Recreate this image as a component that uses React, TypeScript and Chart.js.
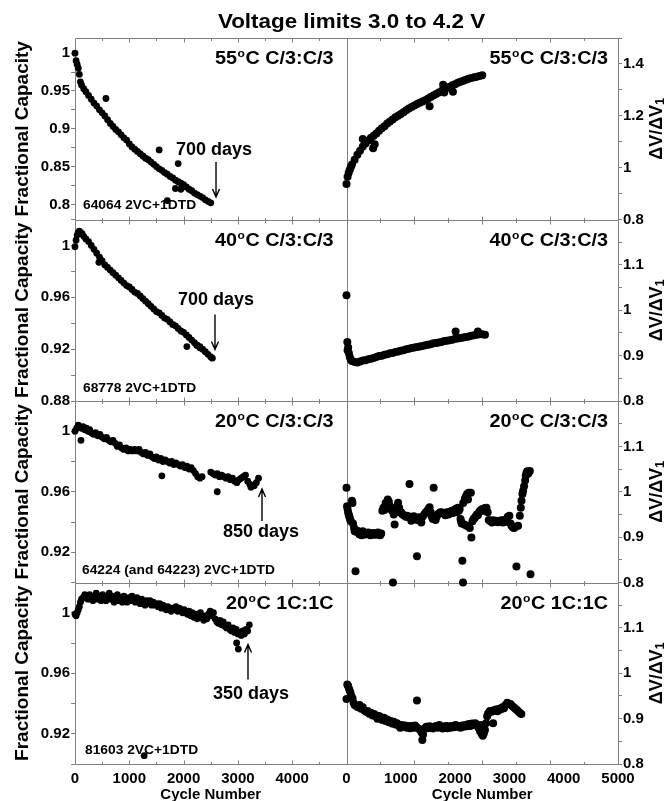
import React, { useEffect, useRef } from "react";
import { Chart, registerables } from "chart.js";

Chart.register(...registerables);

const FONT = '"Liberation Sans", Arial, Helvetica, sans-serif';
const FRAME = "#808080";

// ---------------- text ----------------
const chartTitle = "Voltage limits 3.0 to 4.2 V";
const xTitle = "Cycle Number";
const leftTitle = "Fractional Capacity";
const rightTitleMain = "\u0394V/\u0394V";
const rightTitleSub = "1";
const panelTemps = ["55", "55", "40", "40", "20", "20", "20", "20"];
const panelRates = ["C/3:C/3", "C/3:C/3", "C/3:C/3", "C/3:C/3", "C/3:C/3", "C/3:C/3", "1C:1C", "1C:1C"];
const dayLabels = ["700 days", "700 days", "850 days", "350 days"];
const dayLabelX = [1860, 1897, 2726, 2541];
const dayLabelY = [0.8653, 0.9544, 0.9301, 0.9433];
const arrowX = [2597, 2578, 3444, 3186];
const arrowFrom = [0.856, 0.9467, 0.9407, 0.9559];
const arrowTo = [0.8098, 0.9197, 0.9618, 0.979];
const cellIds = ["64064 2VC+1DTD", "68778 2VC+1DTD", "64224 (and 64223) 2VC+1DTD", "81603 2VC+1DTD"];
const cellIdX = [147, 147, 129, 184];
const cellIdY = [0.7939, 0.8873, 0.9056, 0.9069];

// ---------------- axes ----------------
const xMin = 0;
const xMax = 5000;
const xLabelStep = 1000;
const leftXTicks = [500, 1000, 1500, 2000, 2500, 3000, 3500, 4000, 4500];
const rightXTicks = [625, 1250, 1875, 2500, 3125, 3750, 4375];
const fracMin = [0.78, 0.88, 0.9, 0.9];
const fracMax = [1.02, 1.02, 1.02, 1.02];
const fracStep = [0.025, 0.02, 0.02, 0.02];
const fracLabelStep = [0.05, 0.04, 0.04, 0.04];
const dvMin = [0.8, 0.8, 0.8, 0.8];
const dvMax = [1.5, 1.2, 1.2, 1.2];
const dvStep = [0.1, 0.05, 0.05, 0.05];
const dvLabelStep = [0.2, 0.1, 0.1, 0.1];

// ---------------- data: 55C C/3:C/3 ----------------
const cyc55Frac = [0, 20, 40, 60, 80, 100, 120, 160, 200, 250, 300, 350, 400, 450, 500, 550, 600, 650, 700, 750, 800, 850, 900, 950, 1000, 1050, 1100, 1150, 1200, 1250, 1300, 1350, 1400, 1450, 1500, 1550, 1600, 1650, 1700, 1750, 1800, 1850, 1900, 1950, 2000, 2050, 2100, 2150, 2200, 2250, 2300, 2350, 2400, 2450, 2500];
const frac55 = [1.0, 0.99, 0.985, 0.98, 0.972, 0.962, 0.958, 0.953, 0.949, 0.944, 0.939, 0.934, 0.93, 0.925, 0.921, 0.917, 0.912, 0.907, 0.903, 0.899, 0.896, 0.892, 0.888, 0.885, 0.88, 0.876, 0.873, 0.87, 0.867, 0.864, 0.861, 0.859, 0.856, 0.853, 0.85, 0.847, 0.845, 0.842, 0.84, 0.837, 0.835, 0.832, 0.83, 0.828, 0.826, 0.823, 0.82, 0.818, 0.815, 0.813, 0.811, 0.809, 0.806, 0.804, 0.802];
const cyc55FracOut = [570, 1550, 1900, 1850, 1950, 1700];
const frac55Out = [0.94, 0.872, 0.854, 0.821, 0.82, 0.805];
const cyc55Dv = [0, 20, 40, 60, 80, 100, 150, 200, 250, 300, 350, 400, 450, 500, 550, 600, 650, 700, 750, 800, 850, 900, 950, 1000, 1050, 1100, 1150, 1200, 1250, 1300, 1350, 1400, 1450, 1500, 1550, 1600, 1650, 1700, 1750, 1800, 1850, 1900, 1950, 2000, 2050, 2100, 2150, 2200, 2250, 2300, 2350, 2400, 2450, 2500];
const dv55 = [0.937, 0.965, 0.98, 0.992, 1.002, 1.012, 1.03, 1.05, 1.065, 1.082, 1.093, 1.105, 1.115, 1.123, 1.132, 1.142, 1.152, 1.16, 1.17, 1.178, 1.186, 1.194, 1.2, 1.207, 1.214, 1.221, 1.228, 1.234, 1.24, 1.245, 1.25, 1.255, 1.26, 1.266, 1.272, 1.278, 1.284, 1.29, 1.296, 1.302, 1.307, 1.312, 1.318, 1.322, 1.327, 1.331, 1.335, 1.339, 1.343, 1.346, 1.349, 1.351, 1.353, 1.356];
const cyc55DvOut = [300, 490, 520, 1530, 1780, 1800, 1960];
const dv55Out = [1.11, 1.075, 1.09, 1.237, 1.32, 1.29, 1.293];

// ---------------- data: 40C C/3:C/3 ----------------
const cyc40Frac = [0, 20, 40, 60, 80, 100, 130, 160, 200, 250, 300, 350, 400, 450, 500, 550, 600, 650, 700, 750, 800, 850, 900, 950, 1000, 1050, 1100, 1150, 1200, 1250, 1300, 1350, 1400, 1450, 1500, 1550, 1600, 1650, 1700, 1750, 1800, 1850, 1900, 1950, 2000, 2050, 2100, 2150, 2200, 2250, 2300, 2350, 2400, 2450, 2500, 2530];
const frac40 = [0.999, 1.004, 1.008, 1.01, 1.011, 1.01, 1.009, 1.007, 1.005, 1.003, 1.0, 0.997, 0.994, 0.991, 0.988, 0.985, 0.983, 0.981, 0.979, 0.977, 0.975, 0.973, 0.971, 0.969, 0.968, 0.966, 0.964, 0.963, 0.961, 0.959, 0.957, 0.955, 0.953, 0.951, 0.949, 0.948, 0.946, 0.944, 0.943, 0.941, 0.939, 0.938, 0.936, 0.934, 0.933, 0.931, 0.929, 0.927, 0.925, 0.923, 0.922, 0.92, 0.918, 0.916, 0.914, 0.913];
const cyc40FracOut = [440, 470, 2060, 2240, 2300];
const frac40Out = [0.987, 0.989, 0.922, 0.923, 0.921];
const cyc40Dv = [0, 15, 30, 45, 60, 80, 100, 150, 200, 250, 300, 350, 400, 450, 500, 550, 600, 650, 700, 750, 800, 850, 900, 950, 1000, 1050, 1100, 1150, 1200, 1250, 1300, 1350, 1400, 1450, 1500, 1550, 1600, 1650, 1700, 1750, 1800, 1850, 1900, 1950, 2000, 2050, 2100, 2150, 2200, 2250, 2300, 2350, 2400, 2450, 2500, 2550];
const dv40 = [1.033, 0.93, 0.918, 0.905, 0.897, 0.891, 0.888, 0.886, 0.885, 0.887, 0.889, 0.89, 0.892, 0.893, 0.895, 0.897, 0.899, 0.9, 0.902, 0.903, 0.905, 0.906, 0.908, 0.909, 0.911, 0.912, 0.914, 0.915, 0.917, 0.918, 0.919, 0.92, 0.921, 0.923, 0.924, 0.925, 0.927, 0.928, 0.929, 0.93, 0.932, 0.933, 0.934, 0.935, 0.937, 0.938, 0.939, 0.94, 0.941, 0.942, 0.944, 0.945, 0.946, 0.947, 0.947, 0.946];
const cyc40DvOut = [20, 2010, 2420];
const dv40Out = [0.912, 0.953, 0.953];

// ---------------- data: 20C C/3:C/3 ----------------
const cyc20Frac = [0, 30, 60, 90, 120, 150, 180, 210, 240, 270, 300, 340, 380, 420, 460, 500, 540, 580, 620, 660, 700, 740, 780, 820, 860, 900, 940, 980, 1020, 1060, 1100, 1140, 1180, 1220, 1260, 1300, 1340, 1380, 1420, 1460, 1500, 1540, 1580, 1620, 1660, 1700, 1740, 1780, 1820, 1860, 1900, 1940, 1980, 2020, 2060, 2100, 2140, 2180, 2220, 2260, 2300, 2340, 2500, 2540, 2580, 2620, 2660, 2700, 2740, 2780, 2820, 2860, 2900, 2940, 2980, 3020, 3060, 3100, 3140, 3180, 3220, 3260, 3300, 3340, 3380];
const frac20 = [1.0, 1.002, 1.004, 1.003, 1.002, 1.003, 1.001, 1.002, 1.0, 1.001, 0.999, 0.998, 0.999, 0.997, 0.998, 0.996, 0.995, 0.996, 0.994, 0.993, 0.994, 0.992, 0.99, 0.991, 0.989, 0.988, 0.989, 0.987, 0.988, 0.987, 0.988, 0.987, 0.988, 0.986, 0.985, 0.986, 0.984, 0.985, 0.983, 0.982, 0.983, 0.981, 0.982, 0.98, 0.981, 0.98, 0.979, 0.98, 0.978, 0.979, 0.978, 0.977, 0.978, 0.976, 0.977, 0.975, 0.976, 0.974, 0.972, 0.97, 0.969, 0.97, 0.973, 0.972, 0.971, 0.972, 0.97, 0.971, 0.97, 0.969, 0.97, 0.968, 0.969, 0.967, 0.966, 0.968, 0.969, 0.97, 0.971, 0.967, 0.965, 0.964, 0.964, 0.966, 0.969];
const cyc20FracOut = [110, 1600, 2620, 3240];
const frac20Out = [0.994, 0.9705, 0.96, 0.963];
const cyc20Dv = [0, 10, 20, 30, 40, 50, 60, 70, 80, 100, 110, 120, 140, 150, 166, 180, 200, 220, 240, 260, 280, 300, 320, 340, 360, 380, 400, 420, 440, 460, 480, 500, 520, 540, 560, 580, 600, 620, 640, 660, 680, 700, 720, 740, 760, 780, 800, 820, 840, 855, 870, 886, 900, 930, 950, 970, 990, 1010, 1030, 1060, 1090, 1120, 1140, 1160, 1180, 1193, 1210, 1240, 1270, 1298, 1300, 1330, 1360, 1378, 1400, 1430, 1460, 1490, 1510, 1530, 1550, 1570, 1590, 1605, 1620, 1640, 1660, 1680, 1700, 1730, 1760, 1790, 1820, 1850, 1880, 1910, 1940, 1960, 1990, 2010, 2030, 2050, 2070, 2085, 2100, 2110, 2120, 2134, 2146, 2150, 2170, 2180, 2200, 2210, 2220, 2238, 2250, 2270, 2290, 2300, 2320, 2340, 2360, 2380, 2400, 2420, 2440, 2460, 2480, 2500, 2520, 2550, 2577, 2600, 2620, 2650, 2680, 2700, 2730, 2760, 2790, 2820, 2850, 2880, 2910, 2940, 2970, 3000, 3020, 3040, 3060, 3080, 3100, 3130, 3160, 3192, 3210, 3223, 3240, 3253, 3270, 3290, 3300, 3315, 3330, 3350, 3376, 3389];
const dv20 = [1.009, 0.968, 0.962, 0.955, 0.95, 0.946, 0.942, 0.938, 0.935, 0.98, 0.975, 0.93, 0.92, 0.913, 0.825, 0.912, 0.914, 0.91, 0.906, 0.908, 0.904, 0.913, 0.91, 0.906, 0.909, 0.907, 0.91, 0.906, 0.904, 0.908, 0.906, 0.909, 0.905, 0.908, 0.906, 0.91, 0.906, 0.904, 0.908, 0.958, 0.965, 0.96, 0.975, 0.97, 0.983, 0.978, 0.968, 0.962, 0.958, 0.8, 0.95, 0.928, 0.955, 0.968, 0.976, 0.965, 0.955, 0.954, 0.95, 0.948, 0.945, 0.947, 0.944, 1.017, 0.945, 0.936, 0.942, 0.946, 0.94, 0.858, 0.938, 0.944, 0.936, 0.932, 0.945, 0.95, 0.955, 0.958, 0.962, 0.966, 0.955, 0.945, 0.94, 1.009, 0.942, 0.938, 0.945, 0.95, 0.952, 0.955, 0.954, 0.952, 0.948, 0.955, 0.95, 0.956, 0.958, 0.953, 0.96, 0.962, 0.955, 0.965, 0.958, 0.962, 0.94, 0.935, 0.93, 0.848, 0.8, 0.975, 0.928, 0.985, 0.99, 0.925, 0.995, 0.983, 0.998, 0.92, 0.998, 0.899, 0.935, 0.94, 0.942, 0.946, 0.95, 0.948, 0.955, 0.958, 0.96, 0.962, 0.958, 0.964, 0.965, 0.955, 0.938, 0.935, 0.932, 0.937, 0.934, 0.936, 0.933, 0.935, 0.937, 0.932, 0.938, 0.934, 0.945, 0.947, 0.93, 0.925, 0.922, 0.92, 0.921, 0.835, 0.925, 0.947, 0.965, 0.98, 0.995, 1.002, 1.012, 1.025, 1.035, 1.042, 1.045, 1.04, 1.046, 0.818];

// ---------------- data: 20C 1C:1C ----------------
const cyc20FastFrac = [0, 20, 40, 60, 80, 100, 120, 150, 180, 210, 240, 270, 300, 330, 360, 390, 420, 450, 480, 510, 540, 570, 600, 630, 660, 690, 720, 750, 780, 810, 840, 870, 900, 930, 960, 990, 1020, 1050, 1080, 1110, 1140, 1170, 1200, 1230, 1260, 1290, 1320, 1350, 1380, 1410, 1440, 1470, 1500, 1530, 1560, 1590, 1620, 1650, 1680, 1710, 1740, 1770, 1800, 1830, 1860, 1890, 1920, 1950, 1980, 2010, 2040, 2070, 2100, 2130, 2160, 2190, 2220, 2250, 2280, 2310, 2340, 2370, 2400, 2430, 2460, 2490, 2520, 2550, 2580, 2610, 2640, 2670, 2700, 2730, 2760, 2790, 2820, 2850, 2880, 2910, 2940, 2970, 3000, 3030, 3060, 3090, 3120, 3150, 3180, 3210];
const frac20Fast = [0.999, 0.998, 1.0, 1.002, 1.004, 1.007, 1.009, 1.01, 1.012, 1.011, 1.009, 1.012, 1.01, 1.008, 1.011, 1.013, 1.009, 1.011, 1.008, 1.012, 1.01, 1.008, 1.011, 1.013, 1.009, 1.011, 1.007, 1.01, 1.012, 1.008, 1.01, 1.007, 1.011, 1.009, 1.007, 1.01, 1.008, 1.011, 1.009, 1.007, 1.01, 1.008, 1.006, 1.009, 1.007, 1.005, 1.008, 1.006, 1.008, 1.005, 1.007, 1.005, 1.006, 1.004, 1.006, 1.003, 1.005, 1.004, 1.002, 1.004, 1.003, 1.001, 1.003, 1.002, 1.004, 1.001, 1.003, 1.002, 1.0, 1.002, 1.001, 0.999, 1.001, 0.998, 1.0, 0.997, 0.999, 0.996, 0.998, 1.0, 0.997, 0.995, 0.998, 0.996, 0.999, 1.001, 0.998, 1.0, 0.996, 0.994, 0.993, 0.995, 0.992, 0.994, 0.991, 0.99, 0.992, 0.989, 0.988, 0.99, 0.987, 0.989, 0.986, 0.987, 0.985, 0.988, 0.986, 0.989, 0.988, 0.992];
const cyc20FastFracOut = [2977, 3008, 1274];
const frac20FastOut = [0.98, 0.976, 0.9055];
const cyc20FastDv = [0, 15, 30, 50, 70, 90, 110, 130, 150, 180, 210, 240, 270, 300, 330, 360, 390, 420, 450, 480, 510, 540, 570, 600, 630, 660, 690, 720, 750, 780, 810, 840, 870, 900, 930, 960, 990, 1020, 1050, 1080, 1110, 1140, 1170, 1200, 1230, 1260, 1290, 1320, 1350, 1380, 1410, 1440, 1470, 1500, 1530, 1560, 1590, 1620, 1650, 1680, 1710, 1740, 1770, 1800, 1830, 1860, 1890, 1920, 1950, 1980, 2010, 2040, 2070, 2100, 2130, 2160, 2190, 2220, 2250, 2280, 2310, 2340, 2370, 2400, 2430, 2460, 2490, 2510, 2530, 2550, 2570, 2590, 2610, 2640, 2670, 2700, 2720, 2750, 2780, 2810, 2840, 2870, 2900, 2930, 2960, 2990, 3020, 3050, 3080, 3110, 3140, 3170, 3200, 3220];
const dv20Fast = [0.943, 0.975, 0.972, 0.965, 0.958, 0.95, 0.945, 0.935, 0.93, 0.928, 0.925, 0.93, 0.922, 0.925, 0.918, 0.915, 0.917, 0.911, 0.913, 0.907, 0.91, 0.905, 0.9, 0.906, 0.903, 0.897, 0.902, 0.895, 0.898, 0.892, 0.895, 0.889, 0.893, 0.887, 0.89, 0.885, 0.88, 0.886, 0.882, 0.885, 0.88, 0.884, 0.879, 0.884, 0.88, 0.885, 0.881, 0.878, 0.876, 0.87, 0.865, 0.878, 0.882, 0.879, 0.883, 0.88, 0.878, 0.882, 0.884, 0.88, 0.886, 0.882, 0.878, 0.882, 0.884, 0.879, 0.883, 0.88, 0.884, 0.881, 0.886, 0.882, 0.884, 0.88, 0.885, 0.882, 0.886, 0.883, 0.888, 0.884, 0.889, 0.886, 0.89, 0.887, 0.88, 0.872, 0.866, 0.862, 0.868, 0.875, 0.89, 0.905, 0.912, 0.917, 0.915, 0.918, 0.918, 0.92, 0.916, 0.922, 0.92, 0.925, 0.923, 0.93, 0.935, 0.933, 0.932, 0.928, 0.925, 0.922, 0.919, 0.915, 0.912, 0.91];
const cyc20FastDvOut = [1298, 1396, 2700, 2480, 2520];
const dv20FastOut = [0.94, 0.853, 0.89, 0.886, 0.884];

// ---------------- layout of panels ----------------
const panelRows: any[] = [
  { left: [[cyc55Frac, frac55], [cyc55FracOut, frac55Out]], right: [[cyc55Dv, dv55], [cyc55DvOut, dv55Out]] },
  { left: [[cyc40Frac, frac40], [cyc40FracOut, frac40Out]], right: [[cyc40Dv, dv40], [cyc40DvOut, dv40Out]] },
  { left: [[cyc20Frac, frac20], [cyc20FracOut, frac20Out]], right: [[cyc20Dv, dv20]] },
  { left: [[cyc20FastFrac, frac20Fast], [cyc20FastFracOut, frac20FastOut]], right: [[cyc20FastDv, dv20Fast], [cyc20FastDvOut, dv20FastOut]] },
];

const font = (size: number) => `bold ${size}px ${FONT}`;

function makeDataset(xs: number[], ys: number[], xAxisID: string, yAxisID: string, radius: number) {
  return {
    data: xs.map((x, i) => ({ x, y: ys[i] })),
    xAxisID,
    yAxisID,
    showLine: false,
    pointRadius: radius,
    pointHoverRadius: radius,
    pointBackgroundColor: "#000",
    pointBorderColor: "#000",
    pointBorderWidth: 0,
    clip: false,
  };
}

function isMultiple(v: number, step: number) {
  const r = v / step;
  return Math.abs(r - Math.round(r)) < 1e-6;
}

function yScale(pos: string, weight: number, min: number, max: number, step: number, labelStep: number, hideTop: boolean) {
  return {
    type: "linear",
    position: pos,
    stack: pos === "left" ? "L" : "R",
    stackWeight: 1,
    weight,
    min,
    max,
    ticks: {
      stepSize: step,
      includeBounds: false,
      autoSkip: false,
      padding: 1,
      color: "#000",
      font: { family: FONT, size: 15, weight: "bold" },
      callback: (v: number) => {
        if (hideTop && Math.abs(v - max) < 1e-9) return "";
        return isMultiple(v, labelStep) ? String(+v.toFixed(3)) : "";
      },
    },
    grid: { display: true, drawOnChartArea: false, drawTicks: true, tickLength: 4, color: FRAME, lineWidth: 1 },
    border: { display: false },
    afterFit: (s: any) => {
      s.width = pos === "left" ? 75 : 47;
    },
  };
}

function xScale(isLeft: boolean, weight: number) {
  return {
    type: "linear",
    position: "bottom",
    stack: "X",
    stackWeight: 1,
    weight,
    min: xMin,
    max: xMax,
    ticks: {
      stepSize: xLabelStep,
      autoSkip: false,
      maxRotation: 0,
      padding: 6,
      color: "#000",
      font: { family: FONT, size: 15, weight: "bold" },
      callback: (v: number) => (isLeft && v === xMax ? "" : String(v)),
    },
    grid: { display: false, drawTicks: false, tickLength: 0 },
    border: { display: false },
    title: { display: true, text: xTitle, color: "#000", font: { family: FONT, size: 15, weight: "bold" }, padding: { top: 0, bottom: -3 } },
    afterFit: (s: any) => {
      s.height = 37;
    },
  };
}

function drawScaled(ctx: any, text: string, x: number, y: number, size: number, sx: number, align: string) {
  ctx.save();
  ctx.font = font(size);
  const w = ctx.measureText(text).width * sx;
  const left = align === "right" ? x - w : align === "center" ? x - w / 2 : x;
  ctx.translate(left, y);
  ctx.scale(sx, 1);
  ctx.textAlign = "left";
  ctx.textBaseline = "alphabetic";
  ctx.fillText(text, 0, 0);
  ctx.restore();
}

function drawPanelLabel(ctx: any, temp: string, rate: string, right: number, baseline: number) {
  const sx = 1.1;
  ctx.save();
  ctx.font = font(18);
  const w1 = ctx.measureText(temp).width;
  const rest = "C " + rate;
  const w3 = ctx.measureText(rest).width;
  ctx.font = font(11);
  const w2 = ctx.measureText("o").width;
  const total = (w1 + w2 + 1 + w3) * sx;
  ctx.translate(right - total, baseline);
  ctx.scale(sx, 1);
  ctx.textAlign = "left";
  ctx.textBaseline = "alphabetic";
  ctx.font = font(18);
  ctx.fillText(temp, 0, 0);
  ctx.font = font(11);
  ctx.fillText("o", w1 + 0.5, -7);
  ctx.font = font(18);
  ctx.fillText(rest, w1 + w2 + 1, 0);
  ctx.restore();
}

function drawArrow(ctx: any, x: number, y1: number, y2: number) {
  const dir = y2 > y1 ? 1 : -1;
  ctx.save();
  ctx.strokeStyle = "#000";
  ctx.lineWidth = 1.4;
  ctx.beginPath();
  ctx.moveTo(x, y1);
  ctx.lineTo(x, y2);
  ctx.moveTo(x - 3.5, y2 - dir * 8);
  ctx.lineTo(x, y2);
  ctx.lineTo(x + 3.5, y2 - dir * 8);
  ctx.stroke();
  ctx.restore();
}

const framePlugin = {
  id: "panelFrame",
  beforeDatasetsDraw(chart: any) {
    const { ctx, scales } = chart;
    const xL = scales.xL;
    const xR = scales.xR;
    const rowScales = [0, 1, 2, 3].map((r) => scales["yL" + r]);
    const edges = [rowScales[0].top, ...rowScales.map((s: any) => s.bottom)].map((v: number) => Math.round(v) + 0.5);
    const L = Math.round(xL.left) + 0.5;
    const M = Math.round(xR.left) + 0.5;
    const R = Math.round(xR.right) + 0.5;
    ctx.save();
    ctx.strokeStyle = FRAME;
    ctx.lineWidth = 1;
    ctx.beginPath();
    edges.forEach((y: number) => {
      ctx.moveTo(L, y);
      ctx.lineTo(R, y);
    });
    [L, M, R].forEach((x) => {
      ctx.moveTo(x, edges[0]);
      ctx.lineTo(x, edges[edges.length - 1]);
    });
    const ticks = (scale: any, values: number[], major: (v: number) => boolean) => {
      values.forEach((v) => {
        const px = Math.round(scale.getPixelForValue(v)) + 0.5;
        const len = major(v) ? 4 : 2.5;
        edges.forEach((y: number, i: number) => {
          const up = i > 0 ? len : 0;
          const down = i < edges.length - 1 ? len : 0;
          ctx.moveTo(px, y - up);
          ctx.lineTo(px, y + down);
        });
      });
    };
    ticks(xL, leftXTicks, (v) => v % 1000 === 0);
    ticks(xR, rightXTicks, (v) => v % 1250 === 0);
    ctx.stroke();
    ctx.restore();
  },
};

const textPlugin = {
  id: "panelText",
  afterDatasetsDraw(chart: any) {
    const { ctx, scales } = chart;
    const xL = scales.xL;
    const xR = scales.xR;
    ctx.save();
    ctx.fillStyle = "#000";
    drawScaled(ctx, chartTitle, (xL.left + xR.right) / 2 + 5, scales.yL0.top - 10, 20, 1.12, "center");
    for (let r = 0; r < 4; r++) {
      const yl = scales["yL" + r];
      const yr = scales["yR" + r];
      const cy = (yl.top + yl.bottom) / 2;
      // left axis title
      ctx.save();
      ctx.translate(yl.left + 28, cy);
      ctx.rotate(-Math.PI / 2);
      ctx.font = font(19);
      ctx.textAlign = "center";
      ctx.textBaseline = "alphabetic";
      ctx.fillText(leftTitle, 0, 0);
      ctx.restore();
      // right axis title
      ctx.save();
      ctx.translate(yr.right - 3, cy);
      ctx.rotate(-Math.PI / 2);
      ctx.textAlign = "left";
      ctx.textBaseline = "alphabetic";
      ctx.font = font(18);
      const wMain = ctx.measureText(rightTitleMain).width;
      ctx.font = font(13);
      const wSub = ctx.measureText(rightTitleSub).width;
      const start = -(wMain + wSub) / 2;
      ctx.font = font(18);
      ctx.fillText(rightTitleMain, start, 0);
      ctx.font = font(13);
      ctx.fillText(rightTitleSub, start + wMain, 2);
      ctx.restore();
      // panel labels
      drawPanelLabel(ctx, panelTemps[2 * r], panelRates[2 * r], xL.right - 13, yl.top + 26);
      drawPanelLabel(ctx, panelTemps[2 * r + 1], panelRates[2 * r + 1], xR.right - 10, yr.top + 26);
      // day annotation + arrow
      drawScaled(ctx, dayLabels[r], xL.getPixelForValue(dayLabelX[r]), yl.getPixelForValue(dayLabelY[r]), 18, 1.0, "left");
      drawArrow(ctx, xL.getPixelForValue(arrowX[r]), yl.getPixelForValue(arrowFrom[r]), yl.getPixelForValue(arrowTo[r]));
      // cell id
      drawScaled(ctx, cellIds[r], xL.getPixelForValue(cellIdX[r]), yl.getPixelForValue(cellIdY[r]), 12, 1.15, "left");
    }
    ctx.restore();
  },
};

export default function App() {
  const ref = useRef<HTMLCanvasElement>(null);
  useEffect(() => {
    const datasets: any[] = [];
    panelRows.forEach((row: any, r: number) => {
      row.left.forEach((s: any) => datasets.push(makeDataset(s[0], s[1], "xL", "yL" + r, 3.4)));
      row.right.forEach((s: any) => datasets.push(makeDataset(s[0], s[1], "xR", "yR" + r, 4)));
    });
    const scales: any = { xL: xScale(true, 0), xR: xScale(false, 1) };
    for (let r = 0; r < 4; r++) {
      scales["yL" + r] = yScale("left", 4 - r, fracMin[r], fracMax[r], fracStep[r], fracLabelStep[r], false);
      scales["yR" + r] = yScale("right", r + 1, dvMin[r], dvMax[r], dvStep[r], dvLabelStep[r], r > 0);
    }
    const chart = new Chart(ref.current as HTMLCanvasElement, {
      type: "scatter",
      data: { datasets },
      options: {
        responsive: false,
        animation: false,
        devicePixelRatio: 1,
        events: [],
        layout: { padding: { top: 38, left: 0, right: 0, bottom: 0 }, autoPadding: false },
        plugins: { legend: { display: false }, tooltip: { enabled: false }, title: { display: false } },
        scales,
      } as any,
      plugins: [framePlugin, textPlugin],
    } as any);
    return () => chart.destroy();
  }, []);
  return (
    <div style={{ position: "absolute", left: 0, top: 0, width: 665, height: 801, background: "#fff" }}>
      <canvas ref={ref} width={665} height={801} style={{ display: "block", width: 665, height: 801 }} />
    </div>
  );
}
